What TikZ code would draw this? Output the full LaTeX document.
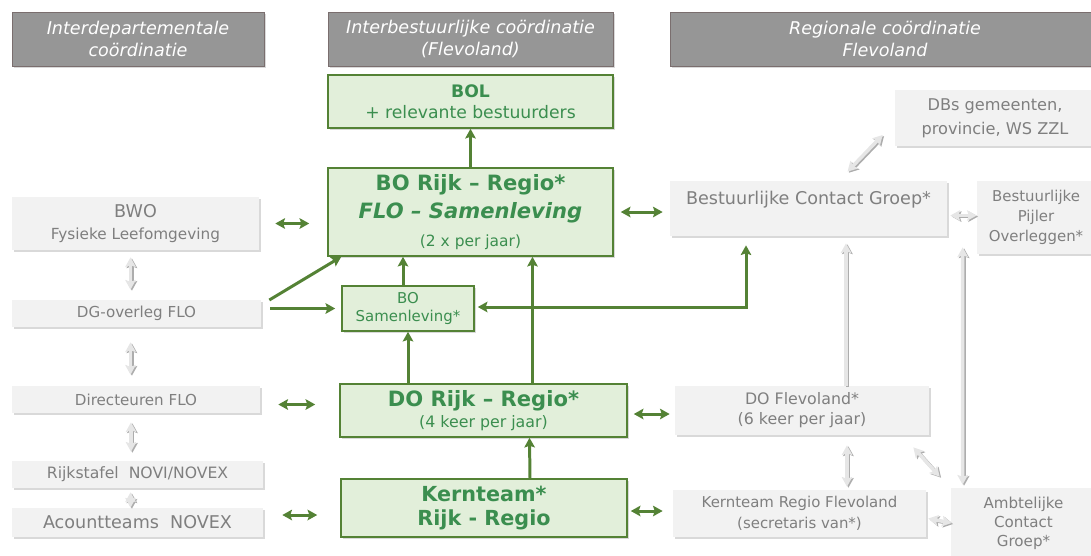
\documentclass[tikz,border=0pt]{standalone}
\usepackage{fontspec}
\setmainfont{DejaVu Sans}
\usetikzlibrary{shadows,arrows.meta}

\definecolor{hdrfill}{HTML}{969696}
\definecolor{hdrline}{HTML}{7A6E6E}
\definecolor{grnfill}{HTML}{E2EFDA}
\definecolor{grnline}{HTML}{548235}
\definecolor{grntext}{HTML}{3B8E4F}
\definecolor{gryfill}{HTML}{F2F2F2}
\definecolor{grytext}{HTML}{7F7F7F}
\definecolor{gryarrow}{HTML}{E6E6E6}
\definecolor{gryshade}{HTML}{ADADAD}

\begin{document}
\begin{tikzpicture}[>={Stealth[length=5.5pt, width=6pt, inset=1pt]}, x=0.02cm, y=-0.02cm,
	boxshadow/.style={drop shadow={shadow xshift=1pt, shadow yshift=-1.2pt, opacity=0.3}},
	hdr/.style={draw=hdrline, fill=hdrfill, text=white, align=center, boxshadow,
		minimum height=1.08cm, font=\itshape\fontsize{10}{13}\selectfont},
	gbox/.style={draw=grnline, line width=0.9pt, fill=grnfill, text=grntext,
		align=center, boxshadow},
	rbox/.style={fill=gryfill, text=grytext, align=center, boxshadow},
	garr/.style={draw=grnline, line width=1.7pt},
	rarr/.style={draw=gryarrow, line width=2pt,
		preaction={draw=gryshade, line width=2pt, transform canvas={xshift=0.8pt, yshift=-0.6pt}}}]
	\useasboundingbox (0,0) rectangle (1091,555);

	% kolomkoppen
	\node[hdr, minimum width=5.04cm] (hdep) at (138,39) {Interdepartementale\\coördinatie};
	\node[hdr, minimum width=5.7cm] (hibc) at (470.5,39) {Interbestuurlijke coördinatie\\(Flevoland)};
	\node[hdr, minimum width=8.6cm] (hreg) at (885,39) {Regionale coördinatie\\Flevoland};

	% interbestuurlijk (groen)
	\node[gbox, minimum width=5.7cm, minimum height=1.06cm, font=\fontsize{9.8}{12}\selectfont]
	(bol) at (470.5,101.5) {\textbf{BOL}\\+ relevante bestuurders};
	\node[gbox, minimum width=5.7cm, minimum height=1.76cm, font=\bfseries\fontsize{12}{16}\selectfont]
	(borijk) at (470.5,212) {BO Rijk -- Regio*\\\textit{FLO -- Samenleving}\\{\mdseries\fontsize{8.8}{9}\selectfont (2 x per jaar)}};
	\node[gbox, minimum width=2.64cm, minimum height=0.9cm, font=\fontsize{8.5}{10.3}\selectfont]
	(bosam) at (408,308.5) {BO\\Samenleving*};
	\node[gbox, minimum width=5.74cm, minimum height=1.06cm, font=\bfseries\fontsize{12}{12}\selectfont]
	(dorijk) at (483.5,410.5) {DO Rijk -- Regio*\\{\mdseries\fontsize{9}{10}\selectfont (4 keer per jaar)}};
	\node[gbox, minimum width=5.72cm, minimum height=1.16cm, font=\bfseries\fontsize{11.8}{14}\selectfont]
	(kern) at (484,508) {Kernteam*\\Rijk - Regio};

	% interdepartementaal (grijs)
	\node[rbox, minimum width=4.94cm, minimum height=1.06cm, font=\fontsize{10}{12.5}\selectfont]
	(bwo) at (135.5,223.5) {BWO\\{\fontsize{8.7}{10}\selectfont Fysieke Leefomgeving}};
	\node[rbox, minimum width=4.98cm, minimum height=0.54cm, font=\fontsize{8.6}{10}\selectfont]
	(dg) at (136.5,313.5) {DG-overleg FLO};
	\node[rbox, minimum width=4.96cm, minimum height=0.54cm, font=\fontsize{8.6}{10}\selectfont]
	(dir) at (136,399.5) {Directeuren FLO};
	\node[rbox, minimum width=5.02cm, minimum height=0.54cm, font=\fontsize{8.9}{10}\selectfont]
	(rijks) at (137.5,474.5) {Rijkstafel\ \ NOVI/NOVEX};
	\node[rbox, minimum width=5.02cm, minimum height=0.58cm, font=\fontsize{10}{12}\selectfont]
	(acc) at (137.5,522.5) {Acountteams\ \ NOVEX};

	% regionaal (grijs)
	\node[rbox, minimum width=4cm, minimum height=1.12cm, font=\fontsize{9.2}{13.5}\selectfont]
	(dbs) at (995,118) {DBs gemeenten,\\provincie, WS ZZL};
	\node[rbox, minimum width=5.54cm, minimum height=1.1cm,
	label={[anchor=north, text=grytext, font=\fontsize{10}{12}\selectfont, yshift=-2.5pt]north:Bestuurlijke Contact Groep*}]
	(bcg) at (808.5,208.5) {};
	\node[rbox, minimum width=2.36cm, minimum height=1.46cm, font=\fontsize{8.5}{11.3}\selectfont]
	(bpo) at (1036,217.5) {Bestuurlijke\\Pijler\\Overleggen*};
	\node[rbox, minimum width=5.08cm, minimum height=0.98cm, font=\fontsize{9}{11.3}\selectfont]
	(dofl) at (802,410.5) {DO Flevoland*\\(6 keer per jaar)};
	\node[rbox, minimum width=5.06cm, minimum height=0.94cm, font=\fontsize{8.5}{11.8}\selectfont]
	(krf) at (799.5,513.5) {Kernteam Regio Flevoland\\(secretaris van*)};
	\node[rbox, minimum width=2.9cm, minimum height=1.4cm, font=\fontsize{8.6}{10.8}\selectfont]
	(acg) at (1023.5,523) {Ambtelijke\\Contact\\Groep*};

	% groene verbindingen
	\draw[garr, ->] (borijk.north) -- (bol.south);
	\draw[garr, ->] ([xshift=-0.1cm]bosam.north) -- ([xshift=-0.1cm]bosam.north |- borijk.south);
	\draw[garr, ->] (bosam.south |- dorijk.north) -- (bosam.south);
	\draw[garr, ->] ([xshift=0.98cm]dorijk.north) -- ([xshift=0.98cm]dorijk.north |- borijk.south);
	\draw[garr, ->] ([xshift=0.92cm]kern.north) -- ([xshift=0.92cm]dorijk.south);
	\draw[garr, ->] ([xshift=0.16cm,yshift=0.27cm]dg.east) -- ([xshift=0.28cm]borijk.south west);
	\draw[garr, ->] ([xshift=0.18cm]dg.east |- bosam.west) -- ([xshift=-0.12cm]bosam.west);
	\coordinate (hoek) at (746,307);
	\draw[garr, <->] ([xshift=0.06cm]hoek -| bosam.east) -- (hoek) -- ([yshift=-0.18cm]hoek |- bcg.south);
	\draw[garr, <->] ([xshift=0.32cm]bwo.east) -- ([xshift=-0.36cm]bwo.east -| borijk.west);
	\draw[garr, <->] ([xshift=0.14cm]borijk.east) -- ([xshift=-0.14cm]borijk.east -| bcg.west);
	\draw[garr, <->] ([xshift=0.36cm,yshift=-0.1cm]dir.east) -- ([xshift=-0.48cm,yshift=-0.1cm]dir.east -| dorijk.west);
	\draw[garr, <->] ([xshift=0.38cm,yshift=0.15cm]acc.east) -- ([xshift=-0.46cm,yshift=0.15cm]acc.east -| kern.west);
	\draw[garr, <->] ([xshift=0.12cm,yshift=-0.07cm]dorijk.east) -- ([xshift=-0.1cm,yshift=-0.07cm]dorijk.east -| dofl.west);
	\draw[garr, <->] ([xshift=0.06cm,yshift=-0.06cm]kern.east) -- ([xshift=-0.2cm,yshift=-0.06cm]kern.east -| krf.west);

	% grijze verbindingen
	\draw[rarr, <->] ([xshift=-0.1cm,yshift=-0.14cm]bwo.south) -- ([xshift=-0.1cm,yshift=0.2cm]bwo.south |- dg.north);
	\draw[rarr, <->] ([xshift=-0.12cm,yshift=-0.3cm]dg.south) -- ([xshift=-0.12cm,yshift=0.22cm]dg.south |- dir.north);
	\draw[rarr, <->] ([xshift=-0.1cm,yshift=-0.18cm]dir.south) -- ([xshift=-0.1cm,yshift=0.18cm]dir.south |- rijks.north);
	\draw[rarr, <->] ([xshift=-0.14cm,yshift=-0.08cm]rijks.south) -- ([xshift=-0.14cm]rijks.south |- acc.north);
	\draw[rarr, <->] ([xshift=0.78cm,yshift=0.18cm]bcg.north) -- ([xshift=-0.24cm,yshift=-0.34cm]dbs.west);
	\draw[rarr, <->] ([xshift=0.06cm,yshift=-0.14cm]bcg.east) -- ([yshift=-0.14cm]bcg.east -| bpo.west);
	\draw[rarr, ->] ([xshift=0.88cm]dofl.north) -- ([xshift=0.88cm,yshift=-0.14cm]dofl.north |- bcg.south);
	\draw[rarr, <->] ([xshift=-0.28cm,yshift=0.14cm]bpo.south west) -- ([xshift=0.24cm,yshift=0.06cm]acg.north west);
	\draw[rarr, <->] ([xshift=0.9cm,yshift=-0.2cm]dofl.south) -- ([xshift=0.9cm,yshift=0.06cm]dofl.south |- krf.north);
	\draw[rarr, <->] ([xshift=-0.32cm,yshift=-0.24cm]dofl.south east) -- ([xshift=-0.22cm,yshift=0.22cm]acg.north west);
	\draw[rarr, <->] ([xshift=0.04cm,yshift=-0.1cm]krf.east) -- ([xshift=0.02cm]acg.west);
\end{tikzpicture}
\end{document}
